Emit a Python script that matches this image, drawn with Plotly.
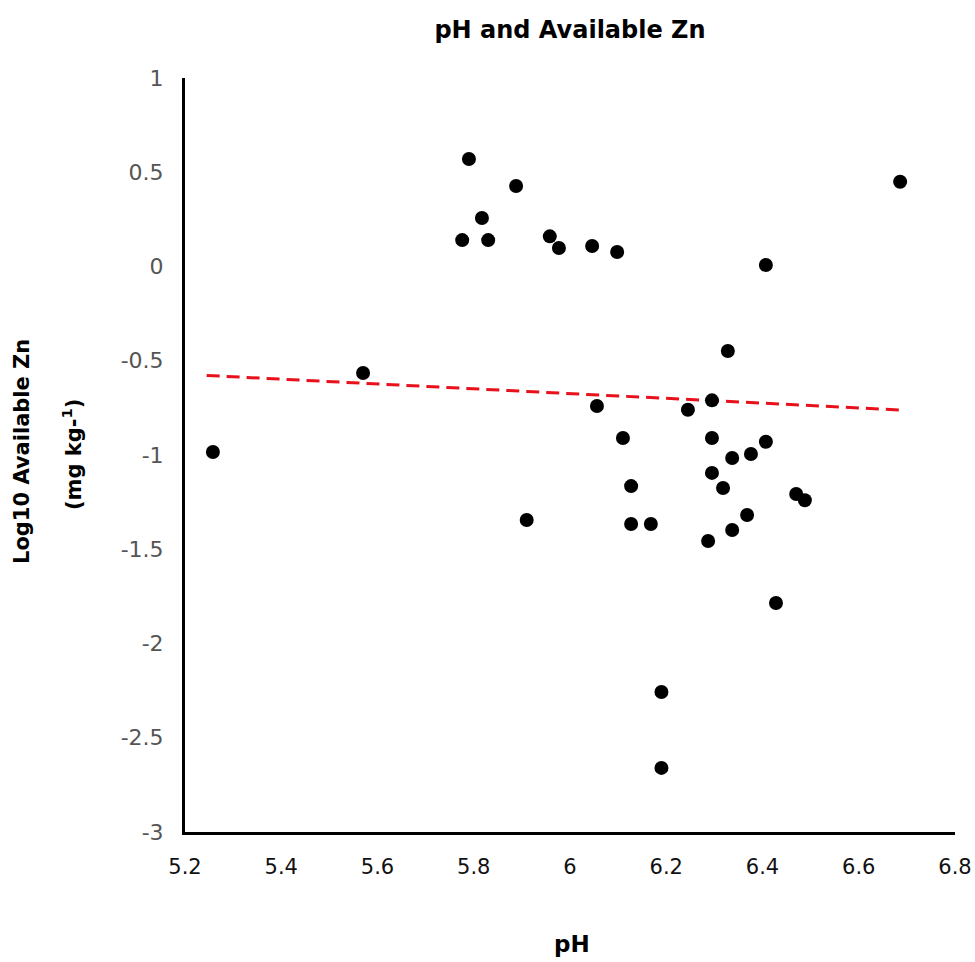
import plotly.graph_objects as go

ph = [5.258, 5.57, 5.776, 5.79, 5.817, 5.83, 5.888, 5.91, 5.958, 5.977,
      6.046, 6.098, 6.056, 6.11, 6.127, 6.127, 6.168, 6.19, 6.19, 6.245,
      6.295, 6.295, 6.295, 6.287, 6.318, 6.328, 6.337, 6.337, 6.376, 6.368,
      6.407, 6.407, 6.428, 6.47, 6.488, 6.686]
log_zn = [-0.984, -0.565, 0.14, 0.57, 0.257, 0.14, 0.427, -1.345, 0.16, 0.098,
          0.109, 0.077, -0.74, -0.91, -1.165, -1.366, -1.366, -2.257, -2.66, -0.76,
          -0.71, -0.91, -1.095, -1.456, -1.175, -0.448, -1.016, -1.398, -0.995, -1.318,
          -0.93, 0.008, -1.785, -1.207, -1.24, 0.45]

trend_x = [5.245, 6.69]
trend_y = [-0.578, -0.762]

x_ticks = [5.2, 5.4, 5.6, 5.8, 6.0, 6.2, 6.4, 6.6, 6.8]
x_tick_text = ["5.2", "5.4", "5.6", "5.8", "6", "6.2", "6.4", "6.6", "6.8"]
y_ticks = [1, 0.5, 0, -0.5, -1, -1.5, -2, -2.5, -3]
y_tick_text = ["1", "0.5", "0", "-0.5", "-1", "-1.5", "-2", "-2.5", "-3"]

L, R, T, B = 185, 20, 78, 130
PW = 975 - L - R
PH = 962 - T - B

fig = go.Figure()
fig.add_trace(go.Scatter(
    x=trend_x, y=trend_y, mode="lines",
    line=dict(color="#e8101a", width=3, dash="13px,7px"),
    showlegend=False, hoverinfo="skip"))
fig.add_trace(go.Scatter(
    x=ph, y=log_zn, mode="markers",
    marker=dict(color="black", size=14),
    showlegend=False))

fig.update_layout(
    width=975, height=962,
    margin=dict(l=L, r=R, t=T, b=B, autoexpand=False),
    plot_bgcolor="white", paper_bgcolor="white",
    title=dict(text="<b>pH and Available Zn</b>", x=0.5, xref="paper",
               xanchor="center", y=1 - 30/962, yref="container", yanchor="middle",
               font=dict(family="DejaVu Sans", size=24, color="black")),
    xaxis=dict(range=[5.2, 6.8], tickvals=x_ticks, ticktext=x_tick_text,
               showgrid=False, zeroline=False, showline=True, linecolor="black",
               linewidth=3, ticks="", ticklabelstandoff=14, automargin=False,
               tickfont=dict(family="DejaVu Sans", size=21, color="#111")),
    yaxis=dict(range=[-3, 1], tickvals=y_ticks, ticktext=y_tick_text,
               showgrid=False, zeroline=False, showline=True, linecolor="black",
               linewidth=3, ticks="", ticklabelstandoff=14, automargin=False,
               tickfont=dict(family="DejaVu Sans", size=22, color="#555")),
    annotations=[
        dict(text="<b>pH</b>", xref="paper", yref="paper", x=(572-L)/PW,
             y=(832-944)/PH, xanchor="center", yanchor="middle", showarrow=False,
             font=dict(family="DejaVu Sans", size=23, color="black")),
        dict(text="<b>Log10 Available Zn</b>", xref="paper", yref="paper", x=(22-L)/PW,
             y=(832-452)/PH, xanchor="center", yanchor="middle", showarrow=False,
             textangle=-90, font=dict(family="DejaVu Sans", size=21, color="black")),
        dict(text="<b>(mg kg-<sup>1</sup>)</b>", xref="paper", yref="paper", x=(72-L)/PW,
             y=(832-455)/PH, xanchor="center", yanchor="middle", showarrow=False,
             textangle=-90, font=dict(family="DejaVu Sans", size=21, color="black")),
    ],
)

fig.write_html("out.html")
